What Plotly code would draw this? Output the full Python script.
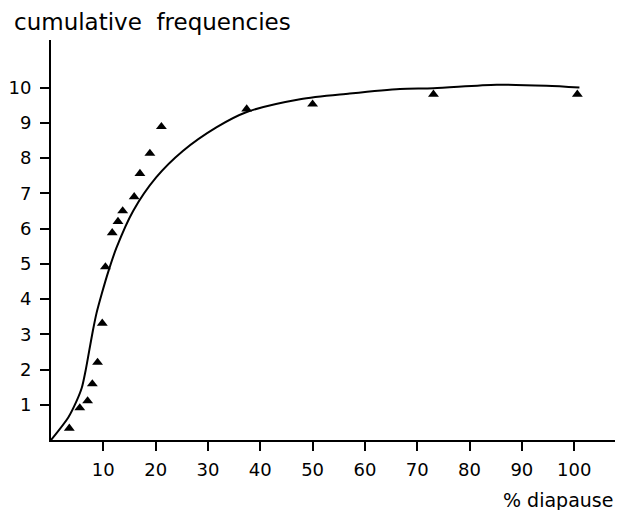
import plotly.graph_objects as go

# Observed points (% diapause vs cumulative frequencies)
obs_x = [3.5, 5.5, 7.0, 7.9, 8.9, 9.8, 10.4, 11.7, 12.8, 13.7, 15.9, 17.0, 18.9, 21.1, 37.4, 50.0, 73.1, 100.6]
obs_y = [0.33, 0.91, 1.11, 1.59, 2.2, 3.31, 4.91, 5.88, 6.2, 6.5, 6.9, 7.56, 8.13, 8.89, 9.39, 9.53, 9.81, 9.81]

# Fitted curve
curve_x = [0, 3.3, 4.9, 5.9, 6.6, 7.3, 8.0, 8.7, 9.7, 11.0, 12.5, 15.7, 20.1, 25.2, 31.6, 37.3, 47.6, 57.1, 66.7, 73.1, 85.2, 94.7, 101]
curve_y = [0, 0.64, 1.11, 1.49, 1.96, 2.53, 3.1, 3.6, 4.15, 4.8, 5.45, 6.5, 7.45, 8.2, 8.87, 9.3, 9.67, 9.83, 9.96, 9.98, 10.08, 10.05, 10.0]

x_ticks = [10, 20, 30, 40, 50, 60, 70, 80, 90, 100]
y_ticks = [1, 2, 3, 4, 5, 6, 7, 8, 9, 10]

FONT = "DejaVu Sans"

fig = go.Figure()
fig.add_trace(go.Scatter(
    x=curve_x, y=curve_y, mode="lines",
    line=dict(color="black", width=2, shape="spline", smoothing=0.8),
    hoverinfo="skip", showlegend=False,
))
fig.add_trace(go.Scatter(
    x=obs_x, y=obs_y, mode="markers",
    marker=dict(symbol="triangle-up", size=9.5, color="black"),
    showlegend=False,
))

axis_common = dict(
    showgrid=False, zeroline=False, showline=True, linecolor="black", linewidth=2,
    ticks="outside", tickcolor="black", tickwidth=2, ticklen=9,
    tickfont=dict(family=FONT, size=18, color="black"),
)

fig.update_xaxes(range=[0, 107.8], tickmode="array", tickvals=x_ticks,
                 ticktext=[str(v) for v in x_ticks], ticklabelstandoff=3, **axis_common)
fig.update_yaxes(range=[0, 11.35], tickmode="array", tickvals=y_ticks,
                 ticktext=[str(v) for v in y_ticks], ticklabelstandoff=5, **axis_common)

fig.add_annotation(text="cumulative  frequencies", xref="paper", yref="paper",
                   x=-0.0692, y=1.045, xanchor="left", yanchor="middle",
                   showarrow=False, font=dict(family=FONT, size=23, color="black"))
fig.add_annotation(text="% diapause", xref="paper", yref="paper",
                   x=1.0, y=-0.15, xanchor="right", yanchor="middle",
                   showarrow=False, font=dict(family=FONT, size=19, color="black"))

fig.update_layout(
    width=622, height=510, autosize=False,
    margin=dict(l=51, r=7, t=40, b=70),
    paper_bgcolor="white", plot_bgcolor="white",
)

fig.write_html("out.html")
